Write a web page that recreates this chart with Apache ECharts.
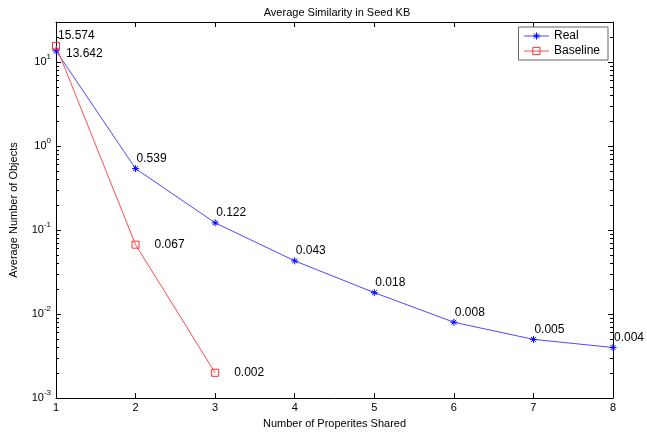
<!DOCTYPE html>
<html>
<head>
<meta charset="utf-8">
<script src="https://cdn.jsdelivr.net/npm/echarts@6/dist/echarts.min.js"></script>
<style>
  html, body { margin: 0; padding: 0; background: #fff; }
  #main { width: 647px; height: 434px; }
</style>
</head>
<body>
<div id="main"></div>
<script>
// data
var shared = [1, 2, 3, 4, 5, 6, 7, 8];
var realVals = [13.642, 0.539, 0.122, 0.043, 0.018, 0.008, 0.005, 0.004];
var baseVals = [15.574, 0.067, 0.002];

var FONT = 'Liberation Sans';

// asterisk marker like matlab '*'
var STAR = 'path://M0,5L10,5M5,0L5,10M1.5,1.5L8.5,8.5M8.5,1.5L1.5,8.5';

var myChart = echarts.init(document.getElementById('main'));

var realData = [];
for (var i = 0; i < realVals.length; i++) {
    var lab = { show: true, position: 'right', distance: 0, offset: [-3, -10] };
    if (i == 0) lab.offset = [6, 3];
    realData.push({ value: [shared[i], realVals[i]], label: lab });
}
var baseData = [];
for (i = 0; i < baseVals.length; i++) {
    var lab2 = { show: true, position: 'right', distance: 0, offset: [15, 0] };
    if (i == 0) lab2.offset = [-2, -10];
    baseData.push({ value: [shared[i], baseVals[i]], label: lab2 });
}

// only the decades get a label, 10^n
function logLabel(v) {
    var e = Math.log(v) / Math.LN10;
    var r = Math.round(e);
    if (Math.abs(e - r) > 1e-6) return '';
    return '{b|10}{e|' + r + '}';
}

var axisLine = { show: true, lineStyle: { color: '#000', width: 1 } };
var yCommon = {
    type: 'log',
    logBase: 10,
    min: 0.001,
    max: 30,
    axisLine: axisLine,
    axisTick: { show: true, inside: true, length: 5, lineStyle: { color: '#000' } },
    minorTick: { show: true, splitNumber: 9, length: 3, lineStyle: { color: '#000', width: 1 } },
    splitLine: { show: false },
    minorSplitLine: { show: false }
};
var xCommon = {
    type: 'value',
    min: 1,
    max: 8,
    interval: 1,
    axisLine: axisLine,
    axisTick: { show: true, inside: true, length: 5, lineStyle: { color: '#000' } },
    splitLine: { show: false }
};

option = {
    backgroundColor: '#fff',
    animation: false,
    textStyle: { fontFamily: FONT },
    title: {
        text: 'Average Similarity in Seed KB',
        left: 332, top: 2,
        textAlign: 'center',
        textStyle: { fontFamily: FONT, fontSize: 11, fontWeight: 'normal', color: '#000' }
    },
    legend: {
        orient: 'vertical',
        right: 39, top: 27,
        data: ['Real', 'Baseline'],
        itemWidth: 25, itemHeight: 9, itemGap: 3,
        padding: [3, 8, 3, 5],
        borderColor: '#666', borderWidth: 1,
        backgroundColor: '#fff',
        itemStyle: { borderWidth: 1 },
        lineStyle: { width: 1 },
        textStyle: { fontFamily: FONT, fontSize: 12, color: '#000' }
    },
    grid: { left: 52, right: 34, top: 22, bottom: 35 },
    xAxis: [
        Object.assign({}, xCommon, {
            position: 'bottom',
            name: 'Number of Properites Shared',
            nameLocation: 'middle',
            nameGap: 17,
            nameTextStyle: { fontFamily: FONT, fontSize: 11, color: '#000' },
            axisLabel: { margin: 4, fontFamily: FONT, fontSize: 11, color: '#000' }
        }),
        Object.assign({}, xCommon, { position: 'top', axisLabel: { show: false } })
    ],
    yAxis: [
        Object.assign({}, yCommon, {
            position: 'left',
            name: 'Average Number of Objects',
            nameLocation: 'middle',
            nameGap: 37,
            nameTextStyle: { fontFamily: FONT, fontSize: 11, color: '#000' },
            axisLabel: {
                margin: 5,
                formatter: logLabel,
                rich: {
                    b: { fontFamily: FONT, fontSize: 11, color: '#000', lineHeight: 18 },
                    e: { fontFamily: FONT, fontSize: 8, color: '#000', lineHeight: 8, verticalAlign: 'top' }
                }
            }
        }),
        Object.assign({}, yCommon, { position: 'right', axisLabel: { show: false } })
    ],
    series: [{
        name: 'Real',
        type: 'line',
        data: realData,
        symbol: STAR,
        symbolSize: 7,
        lineStyle: { color: '#4a4aff', width: 1 },
        itemStyle: { color: '#0000ff', borderColor: '#0000ff', borderWidth: 1 },
        label: { fontFamily: FONT, fontSize: 12, color: '#000' }
    }, {
        name: 'Baseline',
        type: 'line',
        data: baseData,
        symbol: 'rect',
        symbolSize: 7,
        lineStyle: { color: '#ff4a4a', width: 1 },
        itemStyle: { color: 'transparent', borderColor: '#ff3333', borderWidth: 1 },
        label: { fontFamily: FONT, fontSize: 12, color: '#000' }
    }]
};

myChart.setOption(option);
</script>
</body>
</html>
